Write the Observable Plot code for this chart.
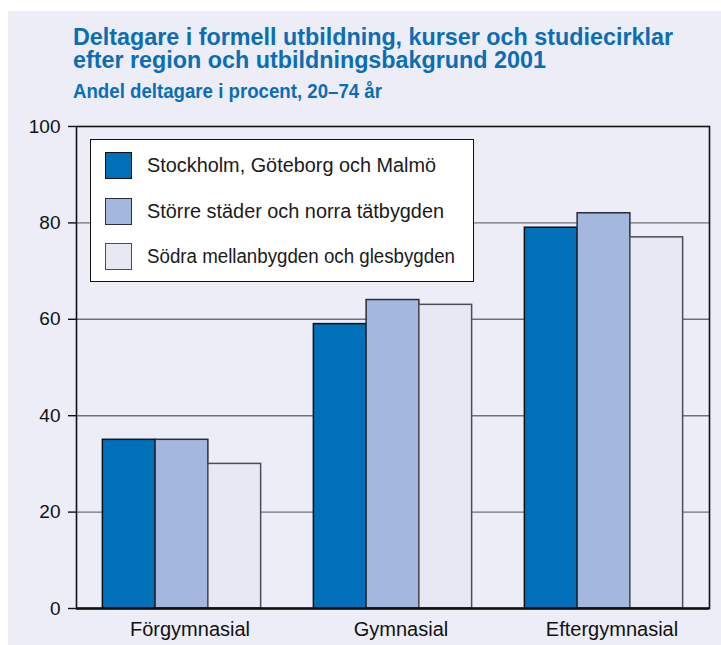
<!DOCTYPE html>
<html>
<head>
<meta charset="utf-8">
<script src="https://cdn.jsdelivr.net/npm/d3@7"></script>
<script src="https://cdn.jsdelivr.net/npm/@observablehq/plot@0.6"></script>
<style>
  html, body { margin: 0; padding: 0; background: #ffffff; }
  body { width: 721px; height: 645px; position: relative; overflow: hidden; }
  #panel { position: absolute; left: 8px; top: 11px; width: 713px; height: 634px; background: #ecedf6; }
  #chart { position: absolute; left: 0; top: 0; }
  .ttl { position: absolute; left: 73px; color: #0b6db6; font-family: "Liberation Sans", Arial, sans-serif; font-weight: bold; white-space: nowrap; display: inline-block; transform-origin: 0 0; }
  #title1 { top: 25.5px; font-size: 24.5px; line-height: 22px; }
  #title2 { top: 48.5px; font-size: 24.5px; line-height: 22px; }
  #subtitle { top: 81px; font-size: 20px; line-height: 20px; }
  #legend { position: absolute; left: 90px; top: 139px; width: 384px; height: 143px; background: #ffffff; border: 1.5px solid #111; box-sizing: border-box; font-family: "Liberation Sans", Arial, sans-serif; font-size: 20px; color: #1a1a1a; }
  .row { position: absolute; left: 14px; height: 27px; display: flex; align-items: center; white-space: nowrap; }
  .sw { width: 27px; height: 27px; box-sizing: border-box; border: 1.5px solid #222; margin-right: 15px; flex: none; }
  .lbl { display: inline-block; transform-origin: 0 50%; }
</style>
</head>
<body>
<div id="panel"></div>
<div id="chart"></div>
<div id="title1" class="ttl">Deltagare i formell utbildning, kurser och studiecirklar</div>
<div id="title2" class="ttl">efter region och utbildningsbakgrund 2001</div>
<div id="subtitle" class="ttl">Andel deltagare i procent, 20–74 år</div>
<div id="legend"></div>
<script>
const categories = ["Förgymnasial", "Gymnasial", "Eftergymnasial"];
const series = ["Stockholm, Göteborg och Malmö", "Större städer och norra tätbygden", "Södra mellanbygden och glesbygden"];
const stockholmGbgMalmo = [35, 59, 79];
const storreStader = [35, 64, 82];
const sodraMellanbygden = [30, 63, 77];
const yTicks = [0, 20, 40, 60, 80, 100];
const gridTicks = [20, 40, 60, 80];
const fills = ["#0070b9", "#a4b8de", "#e6e8f4"];
const strokes = ["#111111", "#2a2d3a", "#4a4c58"];

const seriesValues = [stockholmGbgMalmo, storreStader, sodraMellanbygden];
const data = [];
const xDomain = [];
categories.forEach((cat, i) => {
  if (i > 0) xDomain.push("gap" + i);
  series.forEach((s, j) => {
    const key = cat + "|" + j;
    xDomain.push(key);
    data.push({key, category: cat, series: s, value: seriesValues[j][i]});
  });
});
const labelKeys = categories.map(c => c + "|1");

const chart = Plot.plot({
  width: 721,
  height: 645,
  marginLeft: 76,
  marginRight: 12,
  marginTop: 126,
  marginBottom: 37,
  style: {background: "transparent", fontFamily: '"Liberation Sans", Arial, sans-serif', color: "#111"},
  x: {type: "band", domain: xDomain, paddingInner: 0, paddingOuter: 0.5, round: false, axis: null},
  y: {domain: [0, 100], axis: null},
  color: {domain: series, range: fills},
  marks: [
    Plot.ruleY(gridTicks, {stroke: "#707078", strokeWidth: 1.4}),
    Plot.barY(data, {x: "key", y: "value", fill: "series", stroke: d => strokes[series.indexOf(d.series)], strokeWidth: 1.5}),
    Plot.frame({stroke: "#111", strokeWidth: 1.6}),
    Plot.ruleY([0], {stroke: "#111", strokeWidth: 2.4}),
    Plot.axisY({ticks: yTicks, tickSize: 8, tickPadding: 8, fontSize: 19, label: null, stroke: "#111", strokeWidth: 1.4}),
    Plot.axisX({ticks: labelKeys, tickFormat: k => k.split("|")[0], tickSize: 0, tickPadding: 13, dx: 8, fontSize: 20, label: null, ariaLabel: "category-axis"})
  ]
});
document.getElementById("chart").appendChild(chart);

// condense the category labels slightly (narrow typeface look)
chart.querySelectorAll('g[aria-label="category-axis"] text').forEach(t => {
  const len = t.getComputedTextLength();
  t.setAttribute("textLength", (len * 0.92).toFixed(1));
  t.setAttribute("lengthAdjust", "spacingAndGlyphs");
});

const legend = document.getElementById("legend");
const rowTops = [12, 58, 103];
const labels = [];
series.forEach((s, j) => {
  const row = document.createElement("div");
  row.className = "row";
  row.style.top = rowTops[j] + "px";
  const sw = document.createElement("div");
  sw.className = "sw";
  sw.style.background = fills[j];
  sw.style.borderColor = strokes[j];
  const t = document.createElement("span");
  t.className = "lbl";
  t.textContent = s;
  row.appendChild(sw);
  row.appendChild(t);
  legend.appendChild(row);
  labels.push(t);
});

// fit text widths to the reference's condensed typography
function condense(els, refEl, target) {
  const k = target / refEl.getBoundingClientRect().width;
  els.forEach(el => { el.style.transform = `scaleX(${k})`; });
}
const t1 = document.getElementById("title1"), t2 = document.getElementById("title2"), st = document.getElementById("subtitle");
condense([t1, t2], t1, 600);
condense([st], st, 309);
const legendWidths = [289, 297, 308];
labels.forEach((el, j) => condense([el], el, legendWidths[j]));
</script>
</body>
</html>
